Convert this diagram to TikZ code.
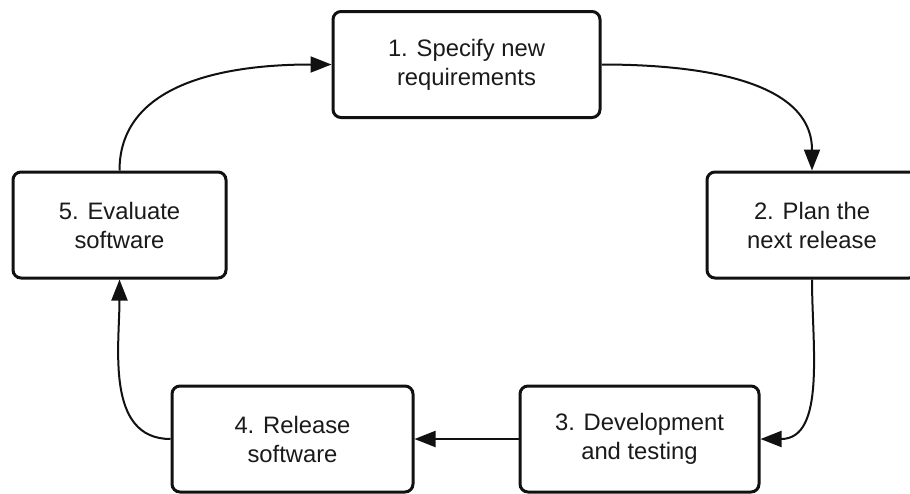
\documentclass[tikz,border=0pt]{standalone}
\usepackage{fontspec}
\setmainfont{Liberation Sans}
\usetikzlibrary{arrows.meta}
\definecolor{ink}{HTML}{1A1A1A}
\definecolor{edge}{HTML}{111111}
\tikzset{
  stage/.style={rounded corners=4pt, draw=edge, fill=white, line width=1.5pt,
                align=center, inner sep=2pt, minimum height=53pt, text=ink,
                font=\fontsize{11.9}{14.5}\selectfont},
  fl/.style={-{Triangle[length=10.5pt, width=8pt]}, line width=1pt, draw=edge},
}
\begin{document}
\begin{tikzpicture}[x=0.5pt, y=-0.5pt]
    \clip (0,0) rectangle (910,493);
    \fill[white] (0,0) rectangle (910,493);
    \node[stage, minimum width=133.5pt] (spec) at (466.5,64.5) {1. Specify new\\requirements};
    \node[stage, minimum width=105pt] (plan) at (812,225) {2. Plan the\\next release};
    \node[stage, minimum width=119.5pt] (dev) at (639.5,439) {3. Development\\and testing};
    \node[stage, minimum width=120.5pt] (rel) at (292.5,439) {4. Release\\software};
    \node[stage, minimum width=106.5pt] (eval) at (119.5,225) {5. Evaluate\\software};
    \draw[fl] (spec.east) to[out=0, in=90] (plan.north);
    \draw[fl] (plan.south) to[out=-90, in=0] (dev.east);
    \draw[fl] (dev.west) -- (rel.east);
    \draw[fl] (rel.west) to[out=180, in=-90] (eval.south);
    \draw[fl] (eval.north) to[out=90, in=180] (spec.west);
\end{tikzpicture}
\end{document}
